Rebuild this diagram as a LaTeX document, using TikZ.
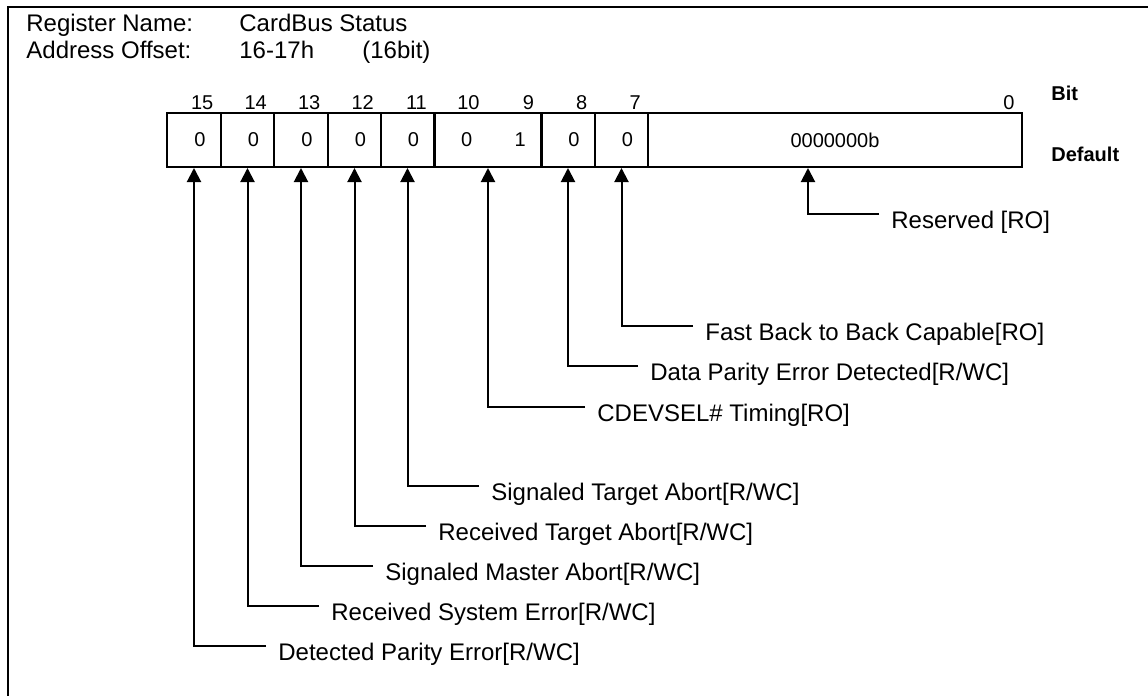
\documentclass[tikz,border=0pt]{standalone}
\usepackage{fontspec}
\setmainfont{Liberation Sans}
\usetikzlibrary{arrows.meta,calc}

\begin{document}
\begin{tikzpicture}[x=0.5pt, y=-0.5pt,
    cell/.style={draw, rectangle, line width=1pt, minimum height=27pt, inner sep=0pt, font=\fontsize{10}{12}\selectfont},
    bitno/.style={anchor=base east, inner sep=0pt, font=\fontsize{10}{12}\selectfont},
    head/.style={anchor=base west, inner sep=0pt, font=\fontsize{12}{14}\selectfont},
    lbl/.style={anchor=west, inner sep=0pt, text height=14pt, text depth=0pt, font=\fontsize{12}{14}\selectfont},
    pointer/.style={line width=1pt, -{Triangle[width=7pt, length=7pt]}}]
    \useasboundingbox (0,0) rectangle (1148,696);

    % Frame
    \draw[line width=1pt] (8,696) |- (1148,7);

    % Header
    \node[head] (regname) at (26,32) {Register Name:};
    \node[head] (regval) at (239,32) {CardBus Status};
    \node[head] (addrname) at (26,59) {Address Offset:};
    \node[head] (addrval) at (239,59) {16-17h};
    \node[head] (addrwidth) at (362,59) {(16bit)};

    % Register cells
    \foreach \n/\x in {15/194, 14/247.5, 13/301, 12/354.5, 11/407.5, 8/568, 7/621.5}
        \node[cell, minimum width=26.75pt] (c\n) at (\x,140) {\hspace*{6pt}0};
    \node[cell, minimum width=53.5pt] (c10) at (488,140) {\hspace*{5.5pt}0\hspace{21.2pt}1};
    \node[cell, minimum width=187pt] (c0) at (835,140) {0000000b};

    % Bit numbers
    \foreach \n/\anc in {15/c15.north east, 14/c14.north east, 13/c13.north east, 12/c12.north east, 11/c11.north east, 10/c10.north, 9/c10.north east, 8/c8.north east, 7/c7.north east, 0/c0.north east}
        \node[bitno] (n\n) at ($(\anc)+(-8,-3)$) {\n};

    \node[anchor=base west, inner sep=0pt, font=\bfseries\fontsize{10}{12}\selectfont] (bitlbl) at (1051,100) {Bit};
    \node[anchor=base west, inner sep=0pt, font=\bfseries\fontsize{10}{12}\selectfont] (deflbl) at (1051,161) {Default};

    % Field descriptions
    \foreach \cl/\x/\y/\txt in {c7/705/326/{Fast Back to Back Capable[RO]}, c8/650/366/{Data Parity Error Detected[R/WC]}, c10/597/407/{CDEVSEL\# Timing[RO]}, c11/491/486/{Signaled Target Abort[R/WC]}, c12/438/526/{Received Target Abort[R/WC]}, c13/385/566/{Signaled Master Abort[R/WC]}, c14/331/606/{Received System Error[R/WC]}, c15/278/646/{Detected Parity Error[R/WC]}} {
        \node[lbl] (l\cl) at (\x,\y) {\txt};
        \draw[pointer] (l\cl.west) ++(-12,0) -| (\cl.south);
    }

    \node[lbl] (lres) at (891,214) {Reserved [RO]};
    \draw[pointer] (lres.west) ++(-12,0) -| (c0.south -| 808,0);
\end{tikzpicture}
\end{document}
